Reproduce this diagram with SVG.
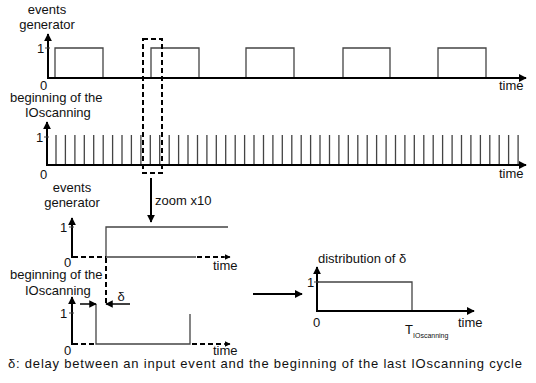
<svg xmlns="http://www.w3.org/2000/svg" width="536" height="383" viewBox="0 0 536 383">
<style>
text{font-family:"Liberation Sans",Arial,sans-serif;font-size:13px;fill:#111}
.ax{stroke:#000;stroke-width:2;fill:none}
.sig{stroke:#444;stroke-width:1.3;fill:none}
.dash{stroke:#000;stroke-width:2;fill:none;stroke-dasharray:5,3}
.tk{stroke:#444;stroke-width:1}
.thin{stroke:#000;stroke-width:1.5;fill:none}
.mid{text-anchor:middle}
</style>
<defs>
<marker id="ah" viewBox="0 0 10 10" refX="9" refY="5" markerWidth="4" markerHeight="4" orient="auto" markerUnits="strokeWidth">
<path d="M0,0 L10,5 L0,10 z" fill="#000"/>
</marker>
<marker id="ahs" viewBox="0 0 10 10" refX="9" refY="5" markerWidth="5" markerHeight="5" orient="auto" markerUnits="strokeWidth">
<path d="M0,0 L10,5 L0,10 z" fill="#000"/>
</marker>
</defs>
<rect width="536" height="383" fill="#fff"/>

<g id="events-top">
<text class="mid" x="47" y="14">events</text>
<text class="mid" x="47" y="29">generator</text>
<path class="sig" d="M55,78V48H103V78M151,78V48H199V78M246,78V48H294V78M343,78V48H390V78M438,78V48H486V78"/>
<line class="ax" x1="48" y1="78" x2="48" y2="34" marker-end="url(#ah)"/>
<line class="ax" x1="47" y1="78" x2="526" y2="78" marker-end="url(#ah)"/>
<line class="tk" x1="45" y1="48" x2="50" y2="48"/>
<text x="37" y="53">1</text>
<text x="40" y="90">0</text>
<text x="499" y="90">time</text>
</g>

<g id="scan-top">
<text x="10" y="102">beginning of the</text>
<text x="25" y="117">IOscanning</text>
<path stroke="#444" stroke-width="1.3" d="M56,165V135M65.4,165V135M74.9,165V135M84.3,165V135M93.7,165V135M103.2,165V135M112.6,165V135M122,165V135M131.4,165V135M140.9,165V135M150.3,165V135M159.7,165V135M169.2,165V135M178.6,165V135M188,165V135M197.5,165V135M206.9,165V135M216.3,165V135M225.7,165V135M235.2,165V135M244.6,165V135M254,165V135M263.5,165V135M272.9,165V135M282.3,165V135M291.8,165V135M301.2,165V135M310.6,165V135M320,165V135M329.5,165V135M338.9,165V135M348.3,165V135M357.8,165V135M367.2,165V135M376.6,165V135M386.1,165V135M395.5,165V135M404.9,165V135M414.3,165V135M423.8,165V135M433.2,165V135M442.6,165V135M452.1,165V135M461.5,165V135M470.9,165V135M480.4,165V135M489.8,165V135M499.2,165V135M508.6,165V135M518.1,165V135"/>
<line class="ax" x1="47" y1="165" x2="47" y2="122" marker-end="url(#ah)"/>
<line class="ax" x1="46" y1="165" x2="526" y2="165" marker-end="url(#ah)"/>
<line class="tk" x1="44" y1="137" x2="49" y2="137"/>
<text x="36" y="142">1</text>
<text x="40" y="179">0</text>
<text x="499" y="178">time</text>
</g>

<g id="events-zoom">
<text class="mid" x="72" y="192">events</text>
<text class="mid" x="72" y="207">generator</text>
<path class="sig" d="M106,257V227H228M106,257H196"/>
<line class="ax" x1="72" y1="258" x2="72" y2="218" marker-end="url(#ah)"/>
<path class="dash" d="M73,257H106"/>
<path class="dash" d="M197,257H224" stroke-width="1.5"/>
<line class="thin" x1="224" y1="257" x2="230" y2="257" marker-end="url(#ah)"/>
<line class="tk" x1="69" y1="227" x2="74" y2="227"/>
<text x="60" y="232">1</text>
<text x="64" y="267">0</text>
<text x="213" y="270">time</text>
</g>

<g id="scan-zoom">
<text x="10" y="279">beginning of the</text>
<text x="25" y="295">IOscanning</text>
<path class="sig" d="M96,304V344H190V314"/>
<line class="ax" x1="72" y1="345" x2="72" y2="297" marker-end="url(#ah)"/>
<path class="dash" d="M73,344H96"/>
<path class="dash" d="M192,344H224" stroke-width="1.5"/>
<line class="thin" x1="224" y1="344" x2="230" y2="344" marker-end="url(#ah)"/>
<line class="tk" x1="69" y1="313" x2="74" y2="313"/>
<text x="60" y="318">1</text>
<text x="64" y="355">0</text>
<text x="213" y="355">time</text>
</g>

<g id="delta">
<path class="dash" d="M106,258V304"/>
<line class="thin" x1="80" y1="304" x2="96" y2="304" marker-end="url(#ahs)"/>
<line class="thin" x1="130" y1="304" x2="106" y2="304" marker-end="url(#ahs)"/>
<text class="mid" x="121" y="301">δ</text>
</g>

<g id="distribution">
<text x="318" y="263">distribution of δ</text>
<path class="sig" d="M317,282H412V311"/>
<line class="ax" x1="317" y1="312" x2="317" y2="267" marker-end="url(#ah)"/>
<line class="ax" x1="316" y1="311" x2="474" y2="311" marker-end="url(#ah)"/>
<line class="tk" x1="314" y1="282" x2="319" y2="282"/>
<text x="307" y="287">1</text>
<text x="313" y="327">0</text>
<text x="458" y="327">time</text>
<text x="405" y="334">T</text>
<text x="413" y="338" style="font-size:7px">IOscanning</text>
</g>

<g id="connectors">
<rect class="dash" x="143" y="39" width="19" height="134"/>
<line class="ax" x1="151" y1="178" x2="151" y2="222" marker-end="url(#ah)"/>
<text x="155" y="205">zoom x10</text>
<line class="ax" x1="253" y1="294" x2="302" y2="294" marker-end="url(#ah)"/>
</g>

<text x="8" y="368" textLength="514" lengthAdjust="spacing">δ: delay between an input event and the beginning of the last IOscanning cycle</text>
</svg>
